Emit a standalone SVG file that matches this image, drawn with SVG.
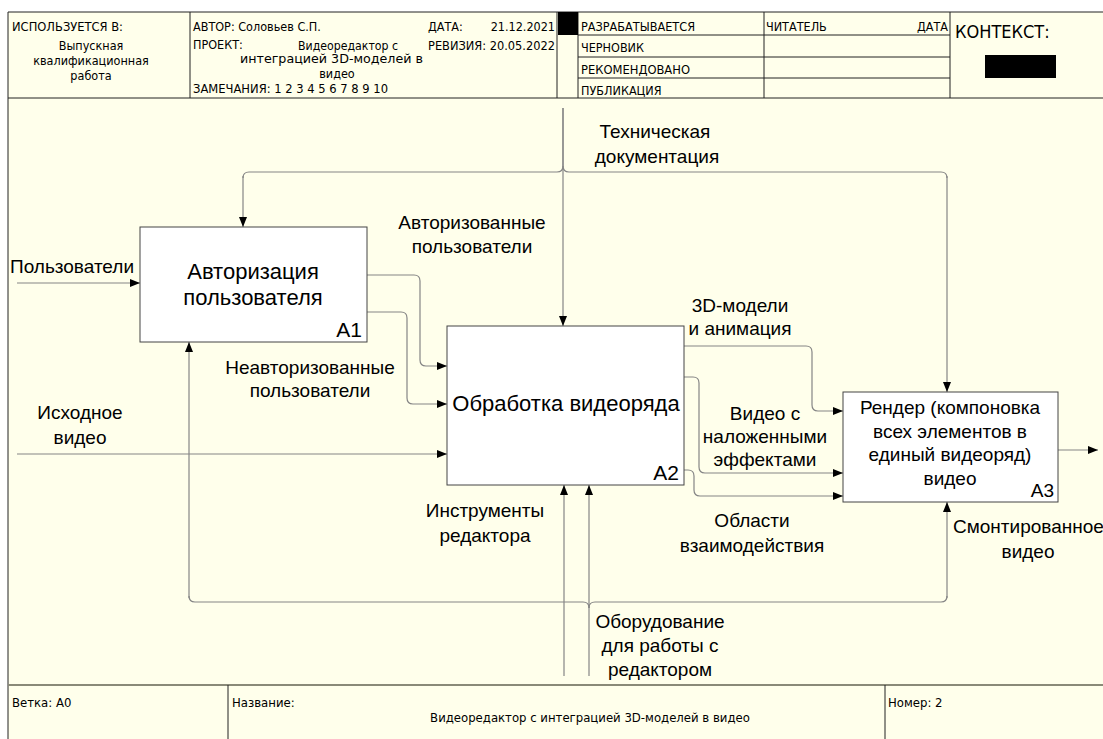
<svg xmlns="http://www.w3.org/2000/svg" width="1103" height="739" viewBox="0 0 1103 739">
<defs>
<marker id="ah" markerUnits="userSpaceOnUse" markerWidth="11" markerHeight="8" refX="10" refY="4" orient="auto">
<path d="M0,0 L10,4 L0,8 z" fill="#000"/>
</marker>
<style>
.hd{font-family:"DejaVu Sans Condensed","DejaVu Sans",sans-serif;font-size:12.5px;fill:#000}
.ft{font-family:"Liberation Sans Narrow","DejaVu Sans Condensed",sans-serif;font-size:13px;fill:#000}
.lb{font-family:"Liberation Sans",Arial,sans-serif;font-size:19px;fill:#000;text-anchor:middle}
.bx{font-family:"Liberation Sans",Arial,sans-serif;font-size:22px;fill:#000;text-anchor:middle}
.bx3{font-family:"Liberation Sans",Arial,sans-serif;font-size:19px;fill:#000;text-anchor:middle}
.num{font-family:"Liberation Sans",Arial,sans-serif;font-size:21px;fill:#000;text-anchor:end}
.grid{stroke:#222;stroke-width:1;fill:none}
.box{fill:#fff;stroke:#444;stroke-width:1}
.cn{fill:none;stroke:#858585;stroke-width:1.2}
.ar{marker-end:url(#ah)}
</style>
</defs>
<rect x="0" y="0" width="1103" height="739" fill="#fff"/>
<rect x="8" y="12" width="1110" height="740" fill="#FFFFEB"/>
<g id="header">
<path class="grid" d="M8,12 H1110 M8,12 V739 M8,98 H1110 M190,12 V98 M557,12 V98 M578,12 V98 M764,12 V98 M950,12 V98 M578,35 H950 M578,57 H950 M578,78 H950"/>
<rect x="558" y="12" width="20" height="23" fill="#000"/>
<rect x="985" y="55" width="71" height="23" fill="#000"/>
<text class="hd" x="12" y="31" textLength="111" lengthAdjust="spacingAndGlyphs">ИСПОЛЬЗУЕТСЯ В:</text>
<text class="hd" x="91" y="50" text-anchor="middle">Выпускная</text>
<text class="hd" x="91" y="65" text-anchor="middle">квалификационная</text>
<text class="hd" x="91" y="80" text-anchor="middle">работа</text>
<text class="hd" x="193" y="31">АВТОР: Соловьев С.П.</text>
<text class="hd" x="193" y="49">ПРОЕКТ:</text>
<text class="hd" x="298" y="50" textLength="100" lengthAdjust="spacingAndGlyphs">Видеоредактор с</text>
<text class="hd" x="240" y="63" textLength="183" lengthAdjust="spacingAndGlyphs">интеграцией 3D-моделей в</text>
<text class="hd" x="337" y="78" text-anchor="middle">видео</text>
<text class="hd" x="193" y="93" textLength="195" lengthAdjust="spacingAndGlyphs">ЗАМЕЧАНИЯ:  1 2 3 4 5 6 7 8 9 10</text>
<text class="hd" x="428" y="31">ДАТА:</text>
<text class="hd" x="555" y="31" text-anchor="end">21.12.2021</text>
<text class="hd" x="428" y="50" textLength="127" lengthAdjust="spacingAndGlyphs">РЕВИЗИЯ: 20.05.2022</text>
<text class="hd" x="581" y="31" textLength="114" lengthAdjust="spacingAndGlyphs">РАЗРАБАТЫВАЕТСЯ</text>
<text class="hd" x="581" y="52">ЧЕРНОВИК</text>
<text class="hd" x="581" y="74" textLength="109" lengthAdjust="spacingAndGlyphs">РЕКОМЕНДОВАНО</text>
<text class="hd" x="581" y="95">ПУБЛИКАЦИЯ</text>
<text class="hd" x="766" y="31">ЧИТАТЕЛЬ</text>
<text class="hd" x="948" y="31" text-anchor="end">ДАТА</text>
<text x="955" y="38" style="font-family:'DejaVu Sans Condensed','DejaVu Sans',sans-serif;font-size:18px">КОНТЕКСТ:</text>
</g>
<g id="connectors">
<path class="cn ar" d="M17,283 H140"/>
<path class="cn ar" d="M17,454 H447"/>
<path class="cn ar" d="M367,275 H414 Q420,275 420,281 V360 Q420,366 426,366 H447"/>
<path class="cn ar" d="M367,312 H401 Q407,312 407,318 V398 Q407,404 413,404 H447"/>
<path class="cn ar" d="M684,346 H806 Q812,346 812,352 V405 Q812,411 818,411 H843"/>
<path class="cn ar" d="M684,377 H693 Q699,377 699,383 V467 Q699,473 705,473 H843"/>
<path class="cn ar" d="M684,470 H688 Q694,470 694,476 V490 Q694,496 700,496 H843"/>
<path class="cn ar" d="M1058,450 H1098"/>
<path class="cn ar" d="M563,108 V326"/>
<path class="cn" d="M563,108 V166 Q563,172 557,172 H249 Q243,172 243,178"/>
<path class="cn ar" d="M243,176 V227"/>
<path class="cn" d="M563,166 Q563,172 569,172 H941 Q947,172 947,178"/>
<path class="cn ar" d="M947,176 V392"/>
<path class="cn ar" d="M564,676 V485"/>
<path class="cn ar" d="M589,676 V485"/>
<path class="cn" d="M589,608 Q589,602 583,602 H195 Q189,602 189,596"/>
<path class="cn ar" d="M189,598 V342"/>
<path class="cn" d="M589,608 Q589,602 595,602 H941 Q947,602 947,596"/>
<path class="cn ar" d="M947,598 V502"/>
</g>
<g id="A1">
<rect class="box" x="140" y="227" width="227" height="115"/>
<text class="bx" x="253" y="279">Авторизация</text>
<text class="bx" x="253" y="305">пользователя</text>
<text class="num" x="362" y="337">A1</text>
</g>
<g id="A2">
<rect class="box" x="447" y="326" width="237" height="159"/>
<text class="bx" x="566" y="411">Обработка видеоряда</text>
<text class="num" x="679" y="480">A2</text>
</g>
<g id="A3">
<rect class="box" x="843" y="392" width="215" height="110"/>
<text class="bx3" x="950" y="414">Рендер (компоновка</text>
<text class="bx3" x="950" y="438">всех элементов в</text>
<text class="bx3" x="950" y="461">единый видеоряд)</text>
<text class="bx3" x="950" y="485">видео</text>
<text class="num" x="1054" y="497" style="font-size:19px">A3</text>
</g>
<g id="labels">
<text class="lb" x="655" y="138">Техническая</text>
<text class="lb" x="657" y="163">документация</text>
<text class="lb" x="472" y="229">Авторизованные</text>
<text class="lb" x="472" y="253">пользователи</text>
<text class="lb" x="10" y="273" style="text-anchor:start">Пользователи</text>
<text class="lb" x="310" y="374">Неавторизованные</text>
<text class="lb" x="310" y="397">пользователи</text>
<text class="lb" x="80" y="419">Исходное</text>
<text class="lb" x="80" y="444">видео</text>
<text class="lb" x="740" y="312">3D-модели</text>
<text class="lb" x="740" y="335">и анимация</text>
<text class="lb" x="765" y="420">Видео с</text>
<text class="lb" x="765" y="443">наложенными</text>
<text class="lb" x="765" y="466">эффектами</text>
<text class="lb" x="485" y="517">Инструменты</text>
<text class="lb" x="485" y="542">редактора</text>
<text class="lb" x="752" y="527">Области</text>
<text class="lb" x="752" y="552">взаимодействия</text>
<text class="lb" x="953" y="533" style="text-anchor:start">Смонтированное</text>
<text class="lb" x="1028" y="558">видео</text>
<text class="lb" x="660" y="628">Оборудование</text>
<text class="lb" x="660" y="652">для работы с</text>
<text class="lb" x="660" y="676">редактором</text>
</g>
<g id="footer">
<path d="M8,685 H1110" stroke="#8a8a78" stroke-width="2"/>
<path class="grid" d="M228,685 V739 M885,685 V739"/>
<text class="ft" x="12" y="707">Ветка: A0</text>
<text class="ft" x="232" y="707">Название:</text>
<text class="ft" x="590" y="722" text-anchor="middle">Видеоредактор с интеграцией 3D-моделей в видео</text>
<text class="ft" x="888" y="707">Номер: 2</text>
</g>
</svg>
